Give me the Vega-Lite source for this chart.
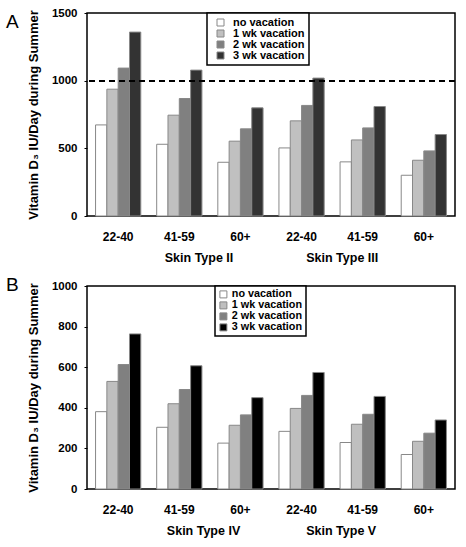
{
  "$schema": "https://vega.github.io/schema/vega-lite/v6.json",
  "padding": {"left": 5, "top": 6, "right": 10, "bottom": 5},
  "config": {
    "font": "Liberation Sans",
    "view": {"stroke": "black", "strokeWidth": 1.5},
    "axis": {
      "labelFont": "Liberation Sans", "labelFontWeight": "bold", "labelFontSize": 11.5, "labelColor": "black",
      "titleFont": "Liberation Sans", "titleFontWeight": "bold", "titleFontSize": 12.5, "titleColor": "black",
      "grid": false, "domain": false, "tickColor": "black"
    },
    "legend": {
      "labelFont": "Liberation Sans", "labelFontWeight": "bold", "labelFontSize": 11, "labelColor": "black",
      "symbolType": "square", "symbolSize": 49, "symbolStrokeColor": "#888", "symbolStrokeWidth": 1,
      "fillColor": "white", "strokeColor": "black", "strokeWidth": 1.5
    }
  },
  "datasets": {
    "a": [
      {"group": "II|22-40", "vac": "no vacation", "value": 673},
      {"group": "II|22-40", "vac": "1 wk vacation", "value": 937},
      {"group": "II|22-40", "vac": "2 wk vacation", "value": 1093},
      {"group": "II|22-40", "vac": "3 wk vacation", "value": 1359},
      {"group": "II|41-59", "vac": "no vacation", "value": 530},
      {"group": "II|41-59", "vac": "1 wk vacation", "value": 745},
      {"group": "II|41-59", "vac": "2 wk vacation", "value": 868},
      {"group": "II|41-59", "vac": "3 wk vacation", "value": 1078},
      {"group": "II|60+", "vac": "no vacation", "value": 397},
      {"group": "II|60+", "vac": "1 wk vacation", "value": 553},
      {"group": "II|60+", "vac": "2 wk vacation", "value": 644},
      {"group": "II|60+", "vac": "3 wk vacation", "value": 799},
      {"group": "III|22-40", "vac": "no vacation", "value": 503},
      {"group": "III|22-40", "vac": "1 wk vacation", "value": 703},
      {"group": "III|22-40", "vac": "2 wk vacation", "value": 817},
      {"group": "III|22-40", "vac": "3 wk vacation", "value": 1019},
      {"group": "III|41-59", "vac": "no vacation", "value": 400},
      {"group": "III|41-59", "vac": "1 wk vacation", "value": 562},
      {"group": "III|41-59", "vac": "2 wk vacation", "value": 651},
      {"group": "III|41-59", "vac": "3 wk vacation", "value": 809},
      {"group": "III|60+", "vac": "no vacation", "value": 301},
      {"group": "III|60+", "vac": "1 wk vacation", "value": 412},
      {"group": "III|60+", "vac": "2 wk vacation", "value": 481},
      {"group": "III|60+", "vac": "3 wk vacation", "value": 602}
    ],
    "b": [
      {"group": "IV|22-40", "vac": "no vacation", "value": 381},
      {"group": "IV|22-40", "vac": "1 wk vacation", "value": 530},
      {"group": "IV|22-40", "vac": "2 wk vacation", "value": 613},
      {"group": "IV|22-40", "vac": "3 wk vacation", "value": 764},
      {"group": "IV|41-59", "vac": "no vacation", "value": 304},
      {"group": "IV|41-59", "vac": "1 wk vacation", "value": 420},
      {"group": "IV|41-59", "vac": "2 wk vacation", "value": 490},
      {"group": "IV|41-59", "vac": "3 wk vacation", "value": 607},
      {"group": "IV|60+", "vac": "no vacation", "value": 226},
      {"group": "IV|60+", "vac": "1 wk vacation", "value": 314},
      {"group": "IV|60+", "vac": "2 wk vacation", "value": 365},
      {"group": "IV|60+", "vac": "3 wk vacation", "value": 450},
      {"group": "V|22-40", "vac": "no vacation", "value": 284},
      {"group": "V|22-40", "vac": "1 wk vacation", "value": 397},
      {"group": "V|22-40", "vac": "2 wk vacation", "value": 461},
      {"group": "V|22-40", "vac": "3 wk vacation", "value": 574},
      {"group": "V|41-59", "vac": "no vacation", "value": 229},
      {"group": "V|41-59", "vac": "1 wk vacation", "value": 319},
      {"group": "V|41-59", "vac": "2 wk vacation", "value": 368},
      {"group": "V|41-59", "vac": "3 wk vacation", "value": 456},
      {"group": "V|60+", "vac": "no vacation", "value": 170},
      {"group": "V|60+", "vac": "1 wk vacation", "value": 235},
      {"group": "V|60+", "vac": "2 wk vacation", "value": 275},
      {"group": "V|60+", "vac": "3 wk vacation", "value": 340}
    ]
  },
  "spacing": 10,
  "resolve": {"scale": {"color": "independent"}, "legend": {"color": "independent"}},
  "vconcat": [
    {
      "title": {"text": "A", "orient": "top", "anchor": "start", "frame": "group", "align": "left", "baseline": "top", "fontSize": 19, "fontWeight": "normal", "color": "black", "offset": -24, "dx": -81, "dy": 1},
      "width": 368,
      "height": 203,
      "data": {"name": "a"},
      "layer": [
        {
          "mark": {"type": "bar", "stroke": "#888", "strokeWidth": 1},
          "encoding": {
            "x": {"field": "group", "type": "nominal", "sort": null,
                  "scale": {"paddingInner": 0.26, "paddingOuter": 0.14},
                  "axis": {"orient": "bottom", "ticks": false, "labelPadding": 15, "labelAngle": 0, "labelFontSize": 12,
                           "labelExpr": "split(datum.value, '|')[1]",
                           "title": "Skin Type II\u00a0\u00a0\u00a0\u00a0\u00a0\u00a0\u00a0\u00a0\u00a0\u00a0\u00a0\u00a0\u00a0\u00a0\u00a0\u00a0\u00a0\u00a0\u00a0\u00a0\u00a0Skin Type III",
                           "titlePadding": 9}},
            "xOffset": {"field": "vac", "type": "nominal", "sort": null},
            "y": {"field": "value", "type": "quantitative",
                  "scale": {"domain": [0, 1500], "nice": false},
                  "axis": {"values": [0, 500, 1000, 1500], "format": "d", "tickSize": 3, "labelPadding": 7,
                           "title": "Vitamin D₃ IU/Day during Summer", "titleFontSize": 13, "titlePadding": 11}},
            "color": {"field": "vac", "type": "nominal", "sort": null,
                      "scale": {"domain": ["no vacation", "1 wk vacation", "2 wk vacation", "3 wk vacation"],
                                "range": ["#ffffff", "#c0c0c0", "#808080", "#333333"]},
                      "legend": {"orient": "none", "legendX": 120, "legendY": 0, "title": null, "padding": 4,
                                 "rowPadding": -2.5, "symbolOffset": 4, "labelOffset": 7}}
          }
        },
        {
          "mark": {"type": "rule", "strokeDash": [6, 4], "strokeWidth": 1.5, "color": "black"},
          "encoding": {"y": {"datum": 1000}}
        }
      ]
    },
    {
      "title": {"text": "B", "orient": "top", "anchor": "start", "frame": "group", "align": "left", "baseline": "top", "fontSize": 19, "fontWeight": "normal", "color": "black", "offset": -20, "dx": -81, "dy": -5},
      "width": 368,
      "height": 203,
      "data": {"name": "b"},
      "layer": [
        {
          "mark": {"type": "bar", "stroke": "#888", "strokeWidth": 1},
          "encoding": {
            "x": {"field": "group", "type": "nominal", "sort": null,
                  "scale": {"paddingInner": 0.26, "paddingOuter": 0.14},
                  "axis": {"orient": "bottom", "ticks": false, "labelPadding": 15, "labelAngle": 0, "labelFontSize": 12,
                           "labelExpr": "split(datum.value, '|')[1]",
                           "title": "Skin Type IV\u00a0\u00a0\u00a0\u00a0\u00a0\u00a0\u00a0\u00a0\u00a0\u00a0\u00a0\u00a0\u00a0\u00a0\u00a0\u00a0\u00a0\u00a0\u00a0Skin Type V",
                           "titlePadding": 9}},
            "xOffset": {"field": "vac", "type": "nominal", "sort": null},
            "y": {"field": "value", "type": "quantitative",
                  "scale": {"domain": [0, 1000], "nice": false},
                  "axis": {"values": [0, 200, 400, 600, 800, 1000], "format": "d", "tickSize": 3, "labelPadding": 7,
                           "title": "Vitamin D₃ IU/Day during Summer", "titleFontSize": 13, "titlePadding": 11}},
            "color": {"field": "vac", "type": "nominal", "sort": null,
                      "scale": {"domain": ["no vacation", "1 wk vacation", "2 wk vacation", "3 wk vacation"],
                                "range": ["#ffffff", "#bfbfbf", "#808080", "#000000"]},
                      "legend": {"orient": "none", "legendX": 128, "legendY": 0, "title": null, "padding": 3,
                                 "rowPadding": -2.5, "labelFontSize": 10.8, "labelOffset": 3}}
          }
        }
      ]
    }
  ]
}
